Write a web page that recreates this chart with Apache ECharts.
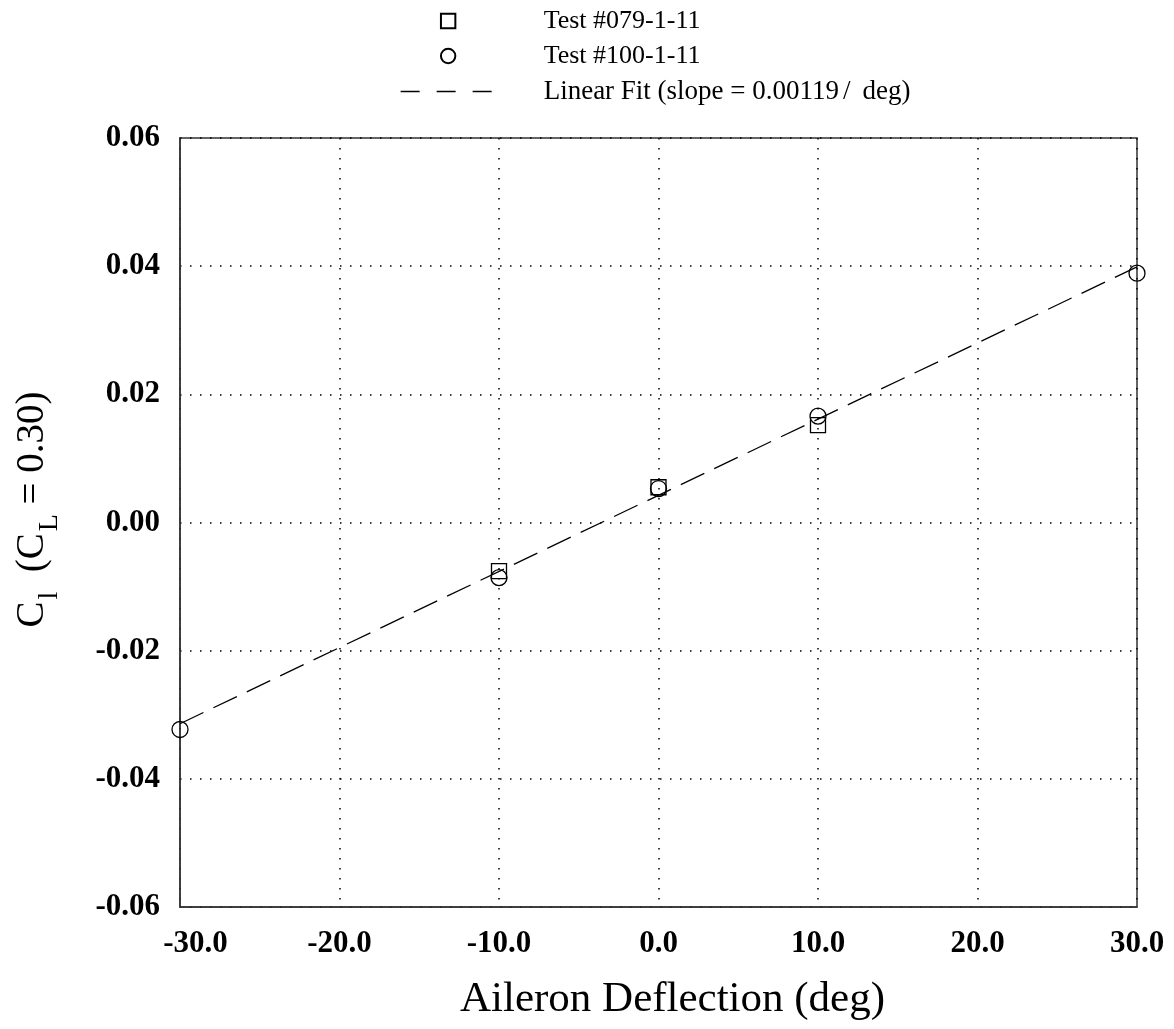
<!DOCTYPE html>
<html>
<head>
<meta charset="utf-8">
<script src="https://cdn.jsdelivr.net/npm/echarts@6/dist/echarts.min.js"></script>
<style>
  html, body { margin: 0; padding: 0; background: #fff; }
  #chart { width: 1174px; height: 1029px; }
</style>
</head>
<body>
<div id="chart"></div>
<script>
// ---- data ----
const seriesNames = ['Test #079-1-11', 'Test #100-1-11', 'Linear Fit (slope = 0.00119/deg)'];
const test079X = [-10, 0, 10];
const test079Y = [-0.0076, 0.0055, 0.0152];
const test100X = [-30, -10, 0, 10, 30];
const test100Y = [-0.0323, -0.0086, 0.0053, 0.0166, 0.0389];
const fitX = [-30, 30];
const fitY = [-0.0314, 0.0399];
const xTicks = [-30, -20, -10, 0, 10, 20, 30];
const yTicks = [-0.06, -0.04, -0.02, 0.00, 0.02, 0.04, 0.06];

const pairs = (xs, ys) => xs.map((x, i) => [x, ys[i]]);
const SERIF = '"Liberation Serif", "Times New Roman", serif';

const tickFont = { fontFamily: SERIF, fontSize: 31, fontWeight: 'bold', color: '#000' };
const legendFont = { fontFamily: SERIF, fontSize: 26, color: '#000' };

function buildOption() {
  return {
    backgroundColor: '#fff',
    animation: false,
    grid: {
      left: 180, right: 37, top: 138, bottom: 122,
      show: true, borderColor: '#333', borderWidth: 1.5, backgroundColor: 'transparent'
    },
    legend: {
      orient: 'vertical',
      left: 395,
      top: 3,
      itemWidth: 95,
      itemHeight: 18,
      itemGap: 9,
      selectedMode: false,
      formatter: function (name) { return name.replace('/', '{sl|/}'); },
      textStyle: Object.assign({}, legendFont, {
        padding: [0, 0, 0, 43],
        rich: { sl: Object.assign({}, legendFont, { fontSize: 27, padding: [0, 12, 0, 4] }) }
      }),
      data: [
        { name: seriesNames[0] },
        { name: seriesNames[1] },
        {
          name: seriesNames[2],
          itemStyle: { opacity: 0 },
          lineStyle: { type: [19, 17], width: 1.3 },
          textStyle: { fontSize: 27 }
        }
      ]
    },
    xAxis: {
      type: 'value',
      min: xTicks[0],
      max: xTicks[xTicks.length - 1],
      interval: 10,
      name: 'Aileron Deflection (deg)',
      nameLocation: 'middle',
      nameGap: 71,
      nameTextStyle: { fontFamily: SERIF, fontSize: 43, color: '#000', padding: [0, 0, 0, 28] },
      axisLine: { show: true, onZero: false, lineStyle: { color: '#333', width: 1.5 } },
      axisTick: { show: false },
      axisLabel: Object.assign({}, tickFont, {
        margin: 21,
        formatter: function (v) {
          const s = v.toFixed(1);
          return v === xTicks[0] ? '{m|' + s + '}' : s;
        },
        rich: { m: Object.assign({}, tickFont, { padding: [0, 0, 0, 31] }) }
      }),
      splitLine: { show: true, lineStyle: { color: '#000', width: 1.5, type: [1.5, 8.5] } }
    },
    yAxis: {
      type: 'value',
      min: yTicks[0],
      max: yTicks[yTicks.length - 1],
      interval: 0.02,
      name: '{a|C}{s|l}{a|  (C}{s|L}{a| = 0.30)}',
      nameLocation: 'middle',
      nameRotate: 90,
      nameGap: 124,
      nameTextStyle: {
        fontFamily: SERIF, fontSize: 39, color: '#000', padding: [0, 0, 0, 26],
        rich: {
          a: { fontFamily: SERIF, fontSize: 39, color: '#000', lineHeight: 46, verticalAlign: 'middle' },
          s: { fontFamily: SERIF, fontSize: 28, color: '#000', lineHeight: 28, verticalAlign: 'top', padding: [26, 0, 0, 2] }
        }
      },
      axisLine: { show: true, onZero: false, lineStyle: { color: '#333', width: 1.5 } },
      axisTick: { show: false },
      axisLabel: Object.assign({}, tickFont, {
        margin: 20,
        formatter: function (v) { return v.toFixed(2); }
      }),
      splitLine: { show: true, lineStyle: { color: '#000', width: 1.5, type: [1.5, 8.5] } }
    },
    series: [
      {
        name: seriesNames[2],
        type: 'line',
        data: pairs(fitX, fitY),
        symbol: 'none',
        clip: false,
        color: '#000',
        lineStyle: { color: '#000', width: 1.3, type: [26, 11] },
        itemStyle: { color: '#000' },
        z: 3
      },
      {
        name: seriesNames[0],
        type: 'line',
        data: pairs(test079X, test079Y),
        symbol: 'rect',
        symbolSize: 15,
        showSymbol: true,
        clip: false,
        color: '#000',
        lineStyle: { width: 0, opacity: 0 },
        itemStyle: { color: 'rgba(0,0,0,0)', borderColor: '#000', borderWidth: 1.3 },
        z: 4
      },
      {
        name: seriesNames[1],
        type: 'line',
        data: pairs(test100X, test100Y),
        symbol: 'circle',
        symbolSize: 16,
        showSymbol: true,
        clip: false,
        color: '#000',
        lineStyle: { width: 0, opacity: 0 },
        itemStyle: { color: 'rgba(0,0,0,0)', borderColor: '#000', borderWidth: 1.3 },
        z: 5
      }
    ]
  };
}

const chart = echarts.init(document.getElementById('chart'), null, { renderer: 'canvas' });
function render() {
  chart.clear();
  chart.setOption(buildOption(), true);
}
render();
if (document.fonts && document.fonts.load) {
  Promise.all([
    document.fonts.load('bold 31px "Liberation Serif"'),
    document.fonts.load('39px "Liberation Serif"')
  ]).then(render, render);
  document.fonts.ready.then(render);
}
setTimeout(render, 300);
</script>
</body>
</html>
